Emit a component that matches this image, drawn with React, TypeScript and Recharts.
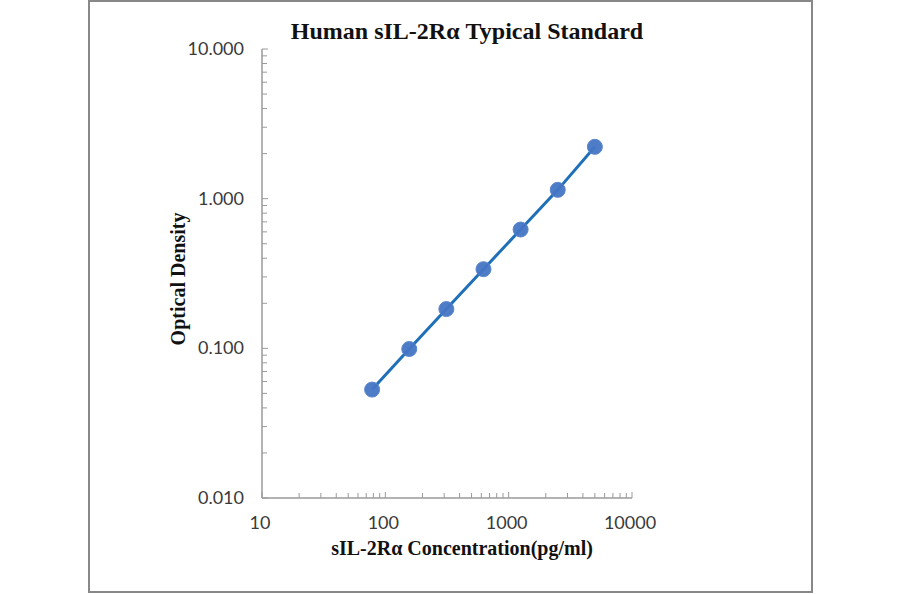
import { Line, LineChart, XAxis, YAxis } from 'recharts';

// Standard curve: concentration (pg/ml) vs optical density
const concentraciones = [78.125, 156.25, 312.5, 625, 1250, 2500, 5000];
const densidades = [0.053, 0.099, 0.183, 0.338, 0.622, 1.145, 2.22];

const decadasX = [10, 100, 1000, 10000];
const decadasY = [0.01, 0.1, 1, 10];

const filas = concentraciones.map((c, i) => ({ conc: c, od: densidades[i] }));

// all ticks (major + minor 2..9) for log axes
function ticksLog(decadas: number[]) {
  const out: number[] = [];
  decadas.forEach((d, i) => {
    out.push(d);
    if (i < decadas.length - 1) for (let k = 2; k <= 9; k++) out.push(+(d * k).toPrecision(6));
  });
  return out;
}

const GRIS = '#9a9a9a';
const FUENTE_TICK = 'Lato, "Open Sans", sans-serif';
const FUENTE_TITULO = '"Liberation Serif", "Times New Roman", serif';

function TickX(props: any) {
  const { x, y, payload } = props;
  const mayor = decadasX.includes(payload.value);
  return (
    <g>
      <line x1={x} y1={y} x2={x} y2={y - (mayor ? 6 : 5)} stroke={GRIS} strokeWidth={1} />
      {mayor && (
        <text x={x - 2} y={y + 31} textAnchor="middle" fontSize={18} fill="#3a3a3a" fontFamily={FUENTE_TICK}>
          {payload.value}
        </text>
      )}
    </g>
  );
}

function TickY(props: any) {
  const { x, y, payload } = props;
  const mayor = decadasY.some((d) => Math.abs(d - payload.value) < 1e-9);
  return (
    <g>
      <line x1={x} y1={y} x2={x + (mayor ? 6 : 5)} y2={y} stroke={GRIS} strokeWidth={1} />
      {mayor && (
        <text x={x - 18} y={y + 6} textAnchor="end" fontSize={18} fill="#3a3a3a" fontFamily={FUENTE_TICK}>
          {payload.value.toFixed(3)}
        </text>
      )}
    </g>
  );
}

const estiloTitulo = { fontWeight: 'bold' as const, fontFamily: FUENTE_TITULO, fill: '#111' };

export default function App() {
  return (
    <div style={{ position: 'absolute', left: 0, top: 0, width: 900, height: 594, background: '#fff' }}>
      <div
        style={{
          position: 'absolute',
          left: 88,
          top: 0,
          width: 721,
          height: 589,
          border: '2px solid #888',
        }}
      />
      <div style={{ position: 'absolute', left: 0, top: 0 }}>
        <LineChart width={900} height={594} data={filas} margin={{ top: 49, left: 202, right: 268, bottom: 66 }}>
          <text x={467} y={39} textAnchor="middle" fontSize={24} style={estiloTitulo}>
            Human sIL-2Rα Typical Standard
          </text>
          <text x={462} y={555} textAnchor="middle" fontSize={20} style={estiloTitulo}>
            sIL-2Rα Concentration(pg/ml)
          </text>
          <text
            x={185}
            y={279}
            textAnchor="middle"
            fontSize={20}
            transform="rotate(-90 185 279)"
            style={estiloTitulo}
          >
            Optical Density
          </text>
          <XAxis
            dataKey="conc"
            type="number"
            scale="log"
            domain={[10, 10000]}
            ticks={ticksLog(decadasX)}
            allowDataOverflow
            interval={0}
            height={30}
            tickSize={0}
            tickMargin={0}
            stroke={GRIS}
            strokeWidth={1.5}
            tick={<TickX />}
          />
          <YAxis
            dataKey="od"
            type="number"
            scale="log"
            domain={[0.01, 10]}
            ticks={ticksLog(decadasY)}
            allowDataOverflow
            interval={0}
            width={60}
            tickSize={0}
            tickMargin={0}
            stroke={GRIS}
            strokeWidth={1.5}
            tick={<TickY />}
          />
          <Line
            dataKey="od"
            stroke="#1f70b8"
            strokeWidth={3}
            dot={{ r: 7.5, fill: '#4575c4', stroke: '#5a86cc', strokeWidth: 1, fillOpacity: 0.95 }}
            isAnimationActive={false}
          />
        </LineChart>
      </div>
    </div>
  );
}
